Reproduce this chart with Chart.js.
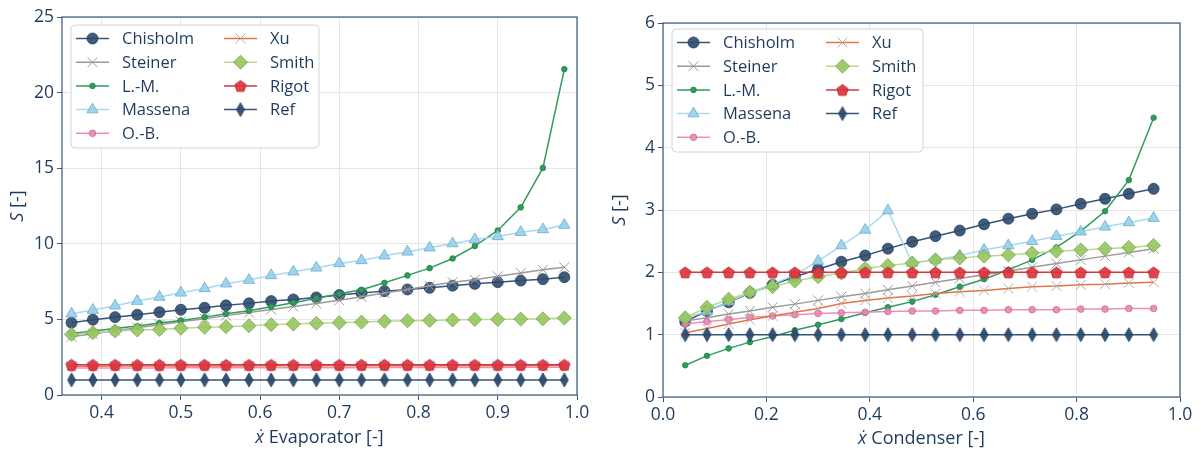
<!DOCTYPE html>
<html>
<head>
<meta charset="utf-8">
<script src="https://cdn.jsdelivr.net/npm/chart.js@4.4.0/dist/chart.umd.min.js"></script>
<style>
  html, body { margin: 0; padding: 0; background: #fff; }
  #wrap { position: relative; width: 1201px; height: 451px; }
  #leftChart { position: absolute; left: 0; top: 0; }
  #rightChart { position: absolute; left: 600px; top: 0; }
</style>
</head>
<body>
<div id="wrap">
  <canvas id="leftChart" width="600" height="451"></canvas>
  <canvas id="rightChart" width="601" height="451"></canvas>
</div>
<script>
// ---- data: evaporator (left) ----
const evapX = [0.362, 0.389, 0.417, 0.445, 0.473, 0.500, 0.530, 0.557, 0.586, 0.614, 0.642, 0.671,
  0.700, 0.728, 0.757, 0.786, 0.814, 0.843, 0.871, 0.900, 0.929, 0.957, 0.984];
const evapChisholm = [4.78, 4.98, 5.15, 5.31, 5.48, 5.64, 5.77, 5.93, 6.06, 6.21, 6.32, 6.45,
  6.61, 6.74, 6.87, 6.98, 7.09, 7.23, 7.35, 7.46, 7.57, 7.66, 7.79];
const evapSteiner = [3.85, 4.05, 4.25, 4.45, 4.65, 4.85, 5.05, 5.25, 5.45, 5.65, 5.85, 6.05,
  6.26, 6.50, 6.74, 6.98, 7.22, 7.46, 7.63, 7.85, 8.07, 8.28, 8.45];
const evapLM = [4.07, 4.23, 4.40, 4.56, 4.76, 4.93, 5.15, 5.37, 5.57, 5.84, 6.10, 6.39,
  6.70, 6.96, 7.42, 7.91, 8.39, 9.03, 9.85, 10.88, 12.41, 15.02, 21.55];
const evapMassena = [5.37, 5.62, 5.90, 6.21, 6.48, 6.76, 7.05, 7.36, 7.60, 7.91, 8.15, 8.41,
  8.70, 8.90, 9.21, 9.47, 9.74, 10.02, 10.29, 10.49, 10.77, 10.95, 11.24];
const evapOB = [1.78, 1.78, 1.79, 1.79, 1.79, 1.80, 1.80, 1.80, 1.80, 1.81, 1.81, 1.81,
  1.81, 1.81, 1.82, 1.82, 1.82, 1.82, 1.82, 1.82, 1.83, 1.83, 1.83];
const evapXu = [1.90, 1.90, 1.91, 1.91, 1.91, 1.92, 1.92, 1.92, 1.92, 1.93, 1.93, 1.93,
  1.93, 1.93, 1.93, 1.94, 1.94, 1.94, 1.94, 1.94, 1.94, 1.95, 1.95];
const evapSmith = [4.01, 4.12, 4.23, 4.30, 4.34, 4.41, 4.48, 4.52, 4.58, 4.65, 4.69, 4.74,
  4.78, 4.82, 4.87, 4.91, 4.93, 4.96, 5.00, 5.00, 5.02, 5.04, 5.09];
const evapRigot = [2.0, 2.0, 2.0, 2.0, 2.0, 2.0, 2.0, 2.0, 2.0, 2.0, 2.0, 2.0,
  2.0, 2.0, 2.0, 2.0, 2.0, 2.0, 2.0, 2.0, 2.0, 2.0, 2.0];
const evapRef = [1.0, 1.0, 1.0, 1.0, 1.0, 1.0, 1.0, 1.0, 1.0, 1.0, 1.0, 1.0,
  1.0, 1.0, 1.0, 1.0, 1.0, 1.0, 1.0, 1.0, 1.0, 1.0, 1.0];

// ---- data: condenser (right) ----
const condX = [0.043, 0.085, 0.127, 0.168, 0.212, 0.255, 0.300, 0.345, 0.391, 0.435, 0.482,
  0.527, 0.574, 0.621, 0.668, 0.714, 0.761, 0.808, 0.855, 0.901, 0.949];
const condChisholm = [1.21, 1.38, 1.52, 1.67, 1.80, 1.93, 2.05, 2.17, 2.27, 2.38, 2.49,
  2.58, 2.67, 2.77, 2.86, 2.94, 3.01, 3.10, 3.18, 3.26, 3.34];
const condSteiner = [1.22, 1.27, 1.33, 1.38, 1.44, 1.49, 1.55, 1.61, 1.66, 1.72, 1.78,
  1.84, 1.90, 1.96, 2.02, 2.08, 2.14, 2.20, 2.26, 2.32, 2.38];
const condLM = [0.51, 0.66, 0.78, 0.88, 0.97, 1.07, 1.16, 1.25, 1.35, 1.44, 1.53,
  1.64, 1.77, 1.89, 2.04, 2.20, 2.40, 2.66, 2.98, 3.48, 4.48];
const condMassena = [1.27, 1.37, 1.53, 1.68, 1.81, 1.96, 2.18, 2.43, 2.68, 2.99, 2.15,
  2.20, 2.27, 2.36, 2.43, 2.50, 2.58, 2.65, 2.73, 2.80, 2.87];
const condOB = [1.17, 1.21, 1.24, 1.28, 1.30, 1.32, 1.34, 1.35, 1.36, 1.37, 1.38,
  1.38, 1.39, 1.39, 1.40, 1.40, 1.40, 1.41, 1.41, 1.42, 1.42];
const condXu = [1.03, 1.10, 1.17, 1.24, 1.30, 1.36, 1.42, 1.50, 1.55, 1.59, 1.62,
  1.66, 1.69, 1.71, 1.74, 1.77, 1.78, 1.80, 1.81, 1.83, 1.84];
const condSmith = [1.27, 1.44, 1.57, 1.68, 1.77, 1.86, 1.93, 1.99, 2.06, 2.11, 2.15,
  2.20, 2.23, 2.26, 2.28, 2.31, 2.34, 2.36, 2.38, 2.40, 2.43];
const condRigot = [2.0, 2.0, 2.0, 2.0, 2.0, 2.0, 2.0, 2.0, 2.0, 2.0, 2.0,
  2.0, 2.0, 2.0, 2.0, 2.0, 2.0, 2.0, 2.0, 2.0, 2.0];
const condRef = [1.0, 1.0, 1.0, 1.0, 1.0, 1.0, 1.0, 1.0, 1.0, 1.0, 1.0,
  1.0, 1.0, 1.0, 1.0, 1.0, 1.0, 1.0, 1.0, 1.0, 1.0];

const seriesNames = ['Chisholm', 'Steiner', 'L.-M.', 'Massena', 'O.-B.', 'Xu', 'Smith', 'Rigot', 'Ref'];

const evapXTicks = [0.4, 0.5, 0.6, 0.7, 0.8, 0.9, 1.0];
const evapYTicks = [0, 5, 10, 15, 20, 25];
const condXTicks = [0.0, 0.2, 0.4, 0.6, 0.8, 1.0];
const condYTicks = [0, 1, 2, 3, 4, 5, 6];

// ---- look ----
const TEXT = '#1f3b5c';
const AXIS = '#3d5877';
const GRID = '#e6e6e6';
const FONT = "'Open Sans', 'Noto Sans', sans-serif";

function makePentagon(r, fill, stroke) {
  const s = Math.ceil(r * 2 + 3);
  const c = document.createElement('canvas');
  c.width = s; c.height = s;
  const g = c.getContext('2d');
  g.beginPath();
  for (let k = 0; k < 5; k++) {
    const a = -Math.PI / 2 + k * 2 * Math.PI / 5;
    g.lineTo(s / 2 + r * Math.cos(a), s / 2 + 0.6 + r * Math.sin(a));
  }
  g.closePath();
  g.fillStyle = fill; g.fill();
  g.strokeStyle = stroke; g.lineWidth = 0.8; g.stroke();
  return c;
}

function makeThinDiamond(w, h, fill, stroke) {
  const c = document.createElement('canvas');
  c.width = Math.ceil(w + 2); c.height = Math.ceil(h + 2);
  const g = c.getContext('2d');
  const cx = c.width / 2, cy = c.height / 2;
  g.beginPath();
  g.moveTo(cx, cy - h / 2); g.lineTo(cx + w / 2, cy);
  g.lineTo(cx, cy + h / 2); g.lineTo(cx - w / 2, cy);
  g.closePath();
  g.fillStyle = fill; g.fill();
  g.strokeStyle = stroke; g.lineWidth = 0.8; g.stroke();
  return c;
}

const pentagon = makePentagon(6, 'rgba(222,52,62,0.92)', '#b02a32');
const thinDiamond = makeThinDiamond(8, 14, 'rgba(44,74,107,0.95)', '#22405f');

const styles = {
  'Chisholm': { line: '#34547a', fill: 'rgba(44,74,107,0.9)', edge: '#26405e', shape: 'circle', r: 5.5, lw: 1.5 },
  'Steiner':  { line: '#9a9a9a', fill: 'rgba(0,0,0,0)', edge: '#9a9a9a', shape: 'crossRot', r: 7, lw: 1.5 },
  'L.-M.':    { line: '#2f9c5c', fill: '#2f9c5c', edge: '#23824a', shape: 'circle', r: 2.8, lw: 1.5 },
  'Massena':  { line: '#a7d9f0', fill: 'rgba(150,208,236,0.9)', edge: '#6fa9c8', shape: 'triangle', r: 6.5, lw: 1.5 },
  'O.-B.':    { line: '#ef8fb9', fill: 'rgba(232,136,178,0.9)', edge: '#c66a95', shape: 'circle', r: 3.3, lw: 1.5 },
  'Xu':       { line: '#e2744a', fill: 'rgba(0,0,0,0)', edge: '#b8aaaa', shape: 'crossRot', r: 7, lw: 1.5 },
  'Smith':    { line: '#b6db8e', fill: 'rgba(150,198,95,0.9)', edge: '#7ba24f', shape: 'rectRot', r: 7, lw: 1.5 },
  'Rigot':    { line: '#d9363e', fill: 'rgba(222,52,62,0.92)', edge: '#b02a32', shape: pentagon, r: 6, lw: 1.5 },
  'Ref':      { line: '#34547a', fill: 'rgba(44,74,107,0.95)', edge: '#22405f', shape: thinDiamond, r: 7, lw: 1.5 }
};

function toPoints(xs, ys) {
  return xs.map((x, i) => ({ x, y: ys[i] }));
}

function buildDatasets(xs, list) {
  return list.map((ys, i) => {
    const name = seriesNames[i];
    const st = styles[name];
    return {
      label: name,
      data: toPoints(xs, ys),
      borderColor: st.line,
      borderWidth: st.lw,
      backgroundColor: st.fill,
      pointStyle: st.shape,
      pointRadius: st.r,
      pointBackgroundColor: st.fill,
      pointBorderColor: st.edge,
      pointBorderWidth: st.shape === 'crossRot' ? 1 : 0.8,
      pointHoverRadius: st.r,
      tension: 0,
      order: list.length - i
    };
  });
}

function drawMixed(ctx, parts, x, y, size) {
  // parts: [{ t, italic }]
  let total = 0;
  parts.forEach((p) => {
    ctx.font = `${p.italic ? 'italic ' : ''}${size}px ${FONT}`;
    p.w = ctx.measureText(p.t).width;
    total += p.w;
  });
  let cx = x - total / 2;
  parts.forEach((p) => {
    ctx.font = `${p.italic ? 'italic ' : ''}${size}px ${FONT}`;
    ctx.fillText(p.t, cx, y);
    cx += p.w;
  });
}

const decorPlugin = {
  id: 'decor',
  afterDraw(chart, args, opts) {
    const { ctx, chartArea: a } = chart;
    ctx.save();

    // frame
    ctx.strokeStyle = AXIS;
    ctx.lineWidth = 1.2;
    ctx.strokeRect(a.left, a.top, a.right - a.left, a.bottom - a.top);

    // axis titles
    ctx.fillStyle = TEXT;
    ctx.textAlign = 'left';
    ctx.textBaseline = 'middle';
    drawMixed(ctx, [{ t: 'ẋ', italic: true }, { t: ' ' + opts.xTitle + ' [-]', italic: false }],
      (a.left + a.right) / 2, opts.xTitleY, 18);
    ctx.save();
    ctx.translate(opts.yTitleX, (a.top + a.bottom) / 2);
    ctx.rotate(-Math.PI / 2);
    drawMixed(ctx, [{ t: 'S', italic: true }, { t: ' [-]', italic: false }], 0, 0, 18);
    ctx.restore();

    // legend (two columns, column-major)
    const bx = a.left + 9, by = a.top + opts.legendTop;
    const bw = opts.legendW, bh = 123;
    ctx.beginPath();
    ctx.roundRect(bx, by, bw, bh, 4);
    ctx.fillStyle = 'rgba(255,255,255,0.85)';
    ctx.fill();
    ctx.strokeStyle = '#d4d4d4';
    ctx.lineWidth = 1;
    ctx.stroke();

    const rowH = 23.7;
    chart.data.datasets.forEach((ds, i) => {
      const col = i < 5 ? 0 : 1;
      const row = i < 5 ? i : i - 5;
      const lx = bx + 5 + col * opts.colW;
      const ly = by + 13.5 + row * rowH;
      ctx.strokeStyle = ds.borderColor;
      ctx.lineWidth = ds.borderWidth;
      ctx.beginPath();
      ctx.moveTo(lx, ly);
      ctx.lineTo(lx + 33, ly);
      ctx.stroke();
      ctx.fillStyle = ds.pointBackgroundColor;
      ctx.strokeStyle = ds.pointBorderColor;
      ctx.lineWidth = ds.pointBorderWidth;
      Chart.helpers.drawPoint(ctx, {
        pointStyle: ds.pointStyle,
        radius: ds.pointRadius,
        borderWidth: ds.pointBorderWidth,
        rotation: 0
      }, lx + 16.5, ly);
      ctx.fillStyle = TEXT;
      ctx.font = `16.5px ${FONT}`;
      ctx.textAlign = 'left';
      ctx.textBaseline = 'middle';
      ctx.fillText(ds.label, lx + 46, ly + 1);
    });

    ctx.restore();
  }
};

function axisOpts(min, max, tickVals, fmt, fitKey, fitSize) {
  return {
    type: 'linear',
    min,
    max,
    afterBuildTicks: (s) => { s.ticks = tickVals.map((v) => ({ value: v })); },
    afterFit: (s) => { s[fitKey] = fitSize; },
    ticks: {
      color: TEXT,
      font: { family: FONT, size: 17.5 },
      padding: 3,
      autoSkip: false,
      maxRotation: 0,
      callback: fmt
    },
    grid: { color: GRID, lineWidth: 1, tickColor: AXIS, tickLength: 5, drawTicks: true },
    border: { display: false }
  };
}

function makeChart(id, xs, list, cfg) {
  return new Chart(document.getElementById(id), {
    type: 'line',
    data: { datasets: buildDatasets(xs, list) },
    options: {
      responsive: false,
      animation: false,
      events: [],
      layout: { padding: cfg.padding },
      plugins: {
        legend: { display: false },
        tooltip: { enabled: false },
        decor: cfg.decor
      },
      scales: {
        x: axisOpts(cfg.xMin, cfg.xMax, cfg.xTicks, (v) => Number(v).toFixed(1), 'height', cfg.xAxisH),
        y: axisOpts(cfg.yMin, cfg.yMax, cfg.yTicks, (v) => String(v), 'width', cfg.yAxisW)
      }
    },
    plugins: [decorPlugin]
  });
}

makeChart('leftChart', evapX,
  [evapChisholm, evapSteiner, evapLM, evapMassena, evapOB, evapXu, evapSmith, evapRigot, evapRef], {
    padding: { top: 17, right: 23, left: 0, bottom: 0 },
    xMin: 0.35, xMax: 1.0, xTicks: evapXTicks,
    yMin: 0, yMax: 25, yTicks: evapYTicks,
    xAxisH: 56, yAxisW: 62,
    decor: { xTitle: 'Evaporator', xTitleY: 438, yTitleX: 18, legendTop: 8, legendW: 248, colW: 148 }
  });

makeChart('rightChart', condX,
  [condChisholm, condSteiner, condLM, condMassena, condOB, condXu, condSmith, condRigot, condRef], {
    padding: { top: 23, right: 21, left: 0, bottom: 0 },
    xMin: 0, xMax: 1.0, xTicks: condXTicks,
    yMin: 0, yMax: 6, yTicks: condYTicks,
    xAxisH: 54, yAxisW: 63,
    decor: { xTitle: 'Condenser', xTitleY: 439, yTitleX: 20, legendTop: 6, legendW: 251, colW: 149 }
  });
</script>
</body>
</html>
